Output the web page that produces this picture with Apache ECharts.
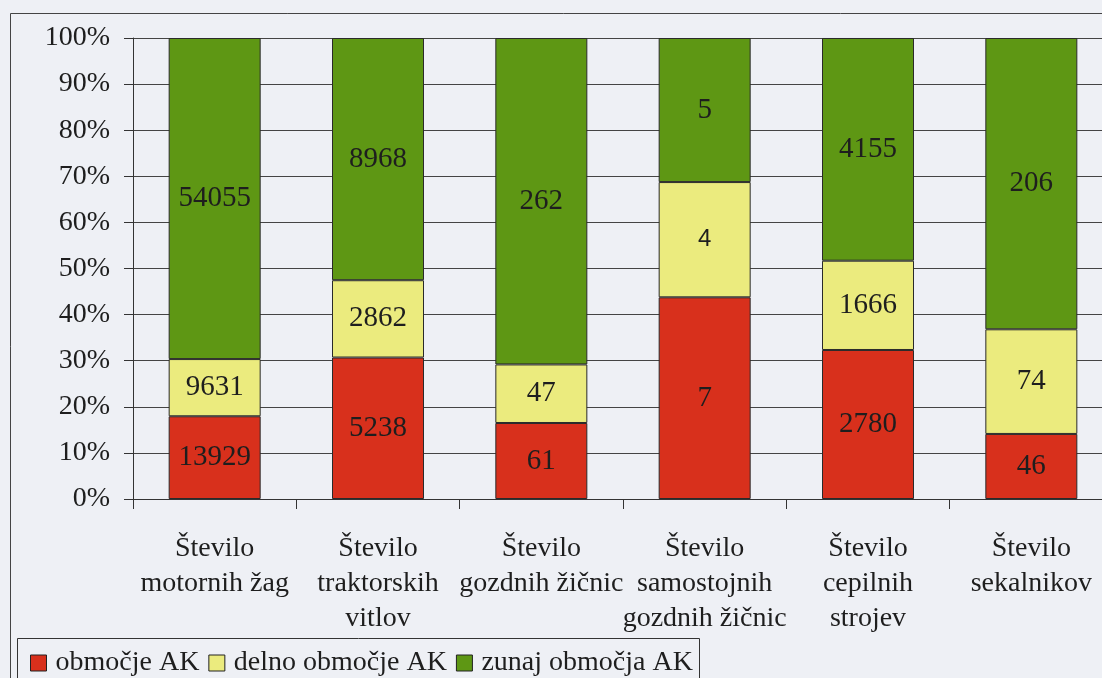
<!DOCTYPE html>
<html>
<head>
<meta charset="utf-8">
<script src="https://cdn.jsdelivr.net/npm/echarts@6/dist/echarts.min.js"></script>
<style>
  html, body { margin: 0; padding: 0; background: #eef0f5; overflow: hidden; }
  #chart { width: 1116px; height: 678px; }
</style>
</head>
<body>
<div id="chart"></div>
<script>
// Categories (machine counts) and the three zone series
const categories = [
  'Število\nmotornih žag',
  'Število\ntraktorskih\nvitlov',
  'Število\ngozdnih žičnic',
  'Število\nsamostojnih\ngozdnih žičnic',
  'Število\ncepilnih\nstrojev',
  'Število\nsekalnikov'
];
const seriesNames = ['območje AK', 'delno območje AK', 'zunaj območja AK'];
const inZone      = [13929, 5238, 61, 7, 2780, 46];
const partialZone = [9631, 2862, 47, 4, 1666, 74];
const outsideZone = [54055, 8968, 262, 5, 4155, 206];
const yTicks = [0, 10, 20, 30, 40, 50, 60, 70, 80, 90, 100];

const colors = ['#d8301c', '#ebeb7e', '#5e9714'];
const serif = '"Liberation Serif", "DejaVu Serif", serif';
const ink = '#1e1e1e';

const totals = categories.map((_, i) => inZone[i] + partialZone[i] + outsideZone[i]);
const raw = [inZone, partialZone, outsideZone];

function makeSeries(k) {
  return {
    name: seriesNames[k],
    type: 'bar',
    stack: 'share',
    barWidth: 92,
    itemStyle: { color: colors[k], borderColor: '#2a2a2a', borderWidth: 1 },
    label: {
      show: true,
      position: 'inside',
      fontFamily: serif,
      fontSize: 29,
      color: ink,
      formatter: p => String(raw[k][p.dataIndex])
    },
    data: raw[k].map((v, i) => {
      const item = { value: v / totals[i] * 100 };
      // the small "4" is set in a sans face
      if (k === 1 && i === 3) item.label = { fontFamily: '"Liberation Sans", Arial, sans-serif', fontSize: 24 };
      return item;
    })
  };
}

const chart = echarts.init(document.getElementById('chart'));
chart.setOption({
  backgroundColor: '#eef0f5',
  animation: false,
  grid: { left: 133, top: 38, right: 3, bottom: 179, containLabel: false },
  graphic: [
    { type: 'rect', shape: { x: 10.5, y: 13.5, width: 1200, height: 800 },
      style: { fill: null, stroke: '#444', lineWidth: 1 }, z: -1 },
    { type: 'rect', shape: { x: 17.5, y: 638.5, width: 682, height: 80 },
      style: { fill: null, stroke: '#333', lineWidth: 1 }, z: -1 }
  ],
  legend: {
    left: 25, top: 644,
    icon: 'rect',
    itemWidth: 16, itemHeight: 16, itemGap: 9,
    itemStyle: { borderColor: '#222', borderWidth: 1 },
    textStyle: { fontFamily: serif, fontSize: 28, color: ink, padding: [0, 0, 0, 4] },
    data: seriesNames
  },
  xAxis: {
    type: 'category',
    data: categories,
    axisLine: { lineStyle: { color: '#333', width: 1 } },
    axisTick: { show: true, alignWithLabel: false, length: 10, lineStyle: { color: '#333' } },
    axisLabel: { fontFamily: serif, fontSize: 28, color: ink, lineHeight: 35, margin: 32, interval: 0 }
  },
  yAxis: {
    type: 'value',
    min: yTicks[0], max: yTicks[yTicks.length - 1], interval: 10,
    axisLine: { show: true, lineStyle: { color: '#333', width: 1 } },
    axisTick: { show: true, length: 9, lineStyle: { color: '#333' } },
    axisLabel: { fontFamily: serif, fontSize: 28, color: ink, margin: 23, formatter: '{value}%' },
    splitLine: { show: true, lineStyle: { color: '#444', width: 1 } }
  },
  series: [makeSeries(0), makeSeries(1), makeSeries(2)]
});
</script>
</body>
</html>
